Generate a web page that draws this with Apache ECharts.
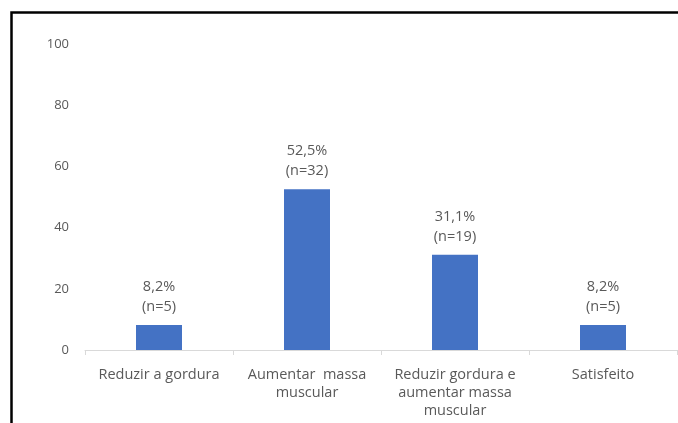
<!DOCTYPE html>
<html>
<head>
<meta charset="utf-8">
<script src="https://cdn.jsdelivr.net/npm/echarts@6/dist/echarts.min.js"></script>
<style>
  html, body { margin: 0; padding: 0; background: #fff; }
  #chart { width: 678px; height: 423px; }
</style>
</head>
<body>
<div id="chart"></div>
<script>
// Objetivo declarado pelos participantes
const categories = [
  'Reduzir a gordura',
  'Aumentar  massa\nmuscular',
  'Reduzir gordura e\naumentar massa\nmuscular',
  'Satisfeito'
];
const percentages = [8.2, 52.5, 31.1, 8.2];
const counts = [5, 32, 19, 5];
const yTicks = { min: 0, max: 100, interval: 20 };

const textColor = '#595959';
const fontFamily = '"Open Sans", "Liberation Sans", sans-serif';

const chart = echarts.init(document.getElementById('chart'));
chart.setOption({
  animation: false,
  backgroundColor: '#fff',
  grid: { left: 85, right: 1, top: 44, bottom: 73 },
  graphic: [{
    type: 'rect',
    shape: { x: 11.5, y: 12.5, width: 800, height: 600 },
    style: { fill: 'none', stroke: '#000', lineWidth: 2.5 },
    silent: true
  }],
  xAxis: {
    type: 'category',
    data: categories,
    axisLine: { lineStyle: { color: '#d9d9d9', width: 1 } },
    axisTick: { show: true, alignWithLabel: false, length: 5, lineStyle: { color: '#d9d9d9' } },
    axisLabel: {
      color: textColor, fontSize: 14.5, fontFamily: fontFamily,
      lineHeight: 18, margin: 16, interval: 0
    }
  },
  yAxis: {
    type: 'value',
    min: yTicks.min, max: yTicks.max, interval: yTicks.interval,
    axisLine: { show: false },
    axisTick: { show: false },
    splitLine: { show: false },
    axisLabel: { color: textColor, fontSize: 13, fontFamily: fontFamily, margin: 16 }
  },
  series: [{
    type: 'bar',
    data: percentages,
    barWidth: 46,
    itemStyle: { color: '#4472c4' },
    label: {
      show: true,
      position: 'top',
      distance: 8,
      color: textColor,
      fontSize: 14.5,
      fontFamily: fontFamily,
      lineHeight: 20,
      formatter: function (p) {
        return p.value.toFixed(1).replace('.', ',') + '%\n(n=' + counts[p.dataIndex] + ')';
      }
    }
  }]
});
</script>
</body>
</html>
